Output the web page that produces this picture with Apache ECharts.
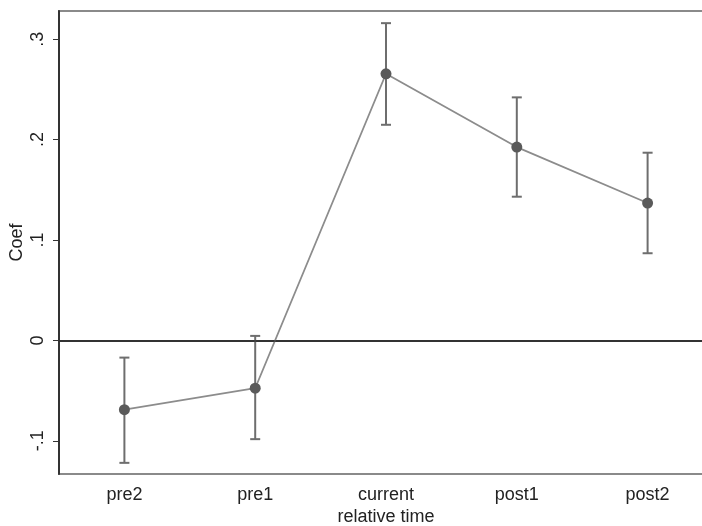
<!DOCTYPE html>
<html><head><meta charset="utf-8">
<script src="https://cdn.jsdelivr.net/npm/echarts@6/dist/echarts.min.js"></script>
<style>html,body{margin:0;padding:0;background:#fff}#c{width:702px;height:526px}</style>
</head><body><div id="c"></div>
<script>
const categories = ['pre2', 'pre1', 'current', 'post1', 'post2'];
const coef = [-0.069, -0.0476, 0.2655, 0.1925, 0.1368];
const lower = [-0.1219, -0.0983, 0.2147, 0.1431, 0.0868];
const upper = [-0.0171, 0.0045, 0.3159, 0.242, 0.1869];
const yTicks = [-0.1, 0, 0.1, 0.2, 0.3];
const yTickLabels = ['-.1', '0', '.1', '.2', '.3'];

const chart = echarts.init(document.getElementById('c'), null, {renderer: 'canvas'});
const font = 'Liberation Sans, Arial, sans-serif';
chart.setOption({
  animation: false,
  backgroundColor: '#fff',
  grid: {left: 59, top: 11, width: 654, height: 463, containLabel: false, outerBoundsMode: 'none',
    show: true, borderColor: '#8a8a8a', borderWidth: 2, backgroundColor: '#fff'},
  xAxis: {
    type: 'category', data: categories, boundaryGap: true,
    name: 'relative time', nameLocation: 'middle', nameGap: 34, nameMoveOverlap: false,
    nameTextStyle: {fontFamily: font, fontSize: 18, color: '#222'},
    axisLine: {lineStyle: {color: '#333', width: 2}},
    axisTick: {alignWithLabel: true, length: 6, lineStyle: {color: '#333'}},
    axisLabel: {fontFamily: font, fontSize: 18, color: '#222', margin: 12},
    splitLine: {show: false}
  },
  yAxis: {
    type: 'value', min: -0.133, max: 0.328,
    name: 'Coef', nameLocation: 'middle', nameGap: 33, nameRotate: 90, nameMoveOverlap: false,
    nameTextStyle: {fontFamily: font, fontSize: 18, color: '#222'},
    axisLine: {show: true, lineStyle: {color: '#333', width: 2}},
    axisTick: {show: true, length: 6, customValues: yTicks, lineStyle: {color: '#333'}},
    axisLabel: {customValues: yTicks, rotate: 90, fontFamily: font, fontSize: 18, color: '#222', margin: 12,
      formatter: function (v) { const i = yTicks.findIndex(t => Math.abs(t - v) < 1e-9); return i >= 0 ? yTickLabels[i] : ''; }},
    splitLine: {show: false}
  },
  series: [
    {
      type: 'custom',
      data: categories.map((c, i) => [i, lower[i], upper[i]]),
      renderItem: function (params, api) {
        const lo = api.coord([api.value(0), api.value(1)]);
        const hi = api.coord([api.value(0), api.value(2)]);
        const w = 5;
        const style = {stroke: '#6e6e6e', lineWidth: 2};
        return {type: 'group', children: [
          {type: 'line', shape: {x1: lo[0], y1: lo[1], x2: hi[0], y2: hi[1]}, style: style},
          {type: 'line', shape: {x1: lo[0] - w, y1: lo[1], x2: lo[0] + w, y2: lo[1]}, style: style},
          {type: 'line', shape: {x1: hi[0] - w, y1: hi[1], x2: hi[0] + w, y2: hi[1]}, style: style}
        ]};
      },
      z: 2
    },
    {
      type: 'line', data: coef, symbol: 'circle', symbolSize: 11,
      lineStyle: {color: '#8c8c8c', width: 1.8},
      itemStyle: {color: '#5a5a5a'},
      z: 3,
      markLine: {silent: true, symbol: ['none', 'none'], label: {show: false},
        lineStyle: {color: '#333', width: 1.5, type: 'solid'},
        data: [{yAxis: 0}]}
    }
  ]
});
</script></body></html>
